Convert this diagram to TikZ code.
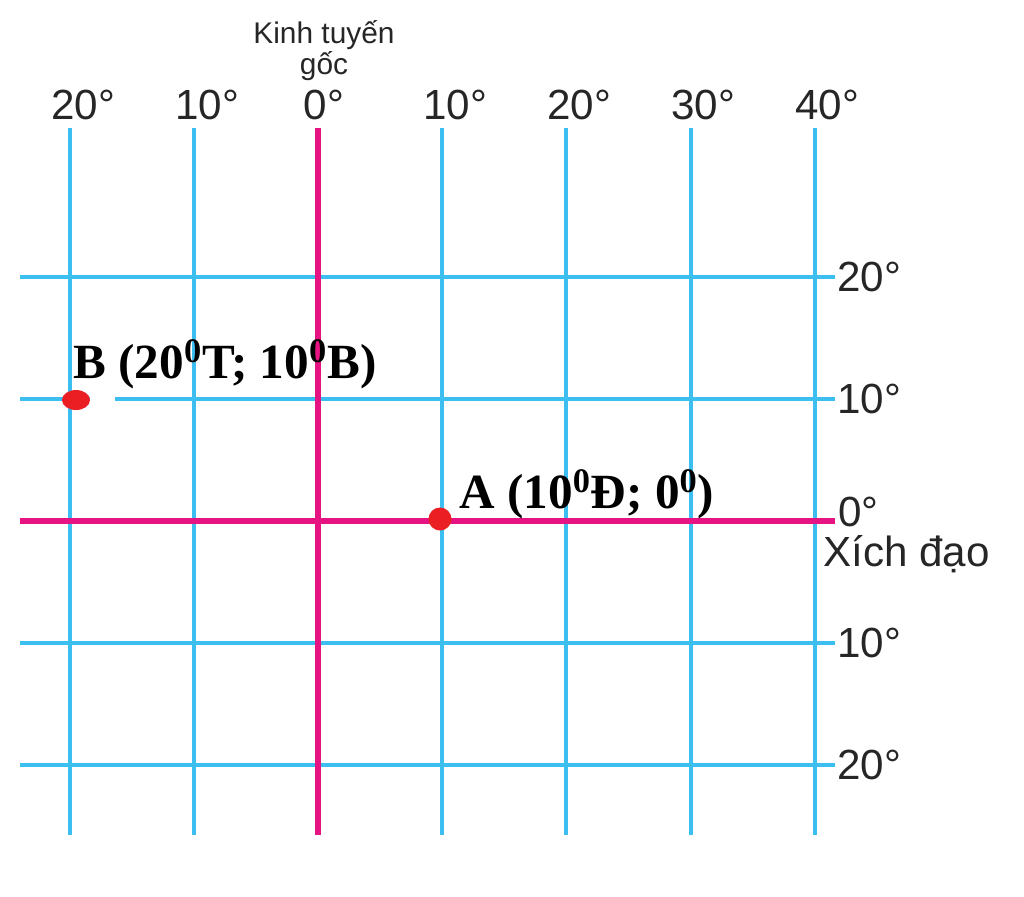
\documentclass[tikz,border=0pt]{standalone}
\usepackage{fontspec}
\setmainfont{Liberation Serif}
\setsansfont{Liberation Sans}
\usetikzlibrary{shapes.geometric}
\definecolor{gridblue}{RGB}{60,190,240}
\definecolor{primemag}{RGB}{230,20,130}
\definecolor{dotred}{RGB}{235,30,35}
\begin{document}
\begin{tikzpicture}[x=0.02cm,y=-0.02cm,
        meridian/.style={gridblue,line width=2.3pt},
        parallel/.style={gridblue,line width=2.6pt},
        primeline/.style={primemag,line width=3.4pt},
        deglabel/.style={font=\sffamily\fontsize{24}{24}\selectfont,text=black!85,inner sep=0pt},
        ptlabel/.style={font=\bfseries\fontsize{28}{28}\selectfont,inner sep=0pt,anchor=base west},
        ptdot/.style={fill=dotred,draw=none,inner sep=0pt}]
    \useasboundingbox (0,0) rectangle (1024,896);

    % grid
    \foreach \y in {277,399,643,765}
        \draw[parallel] (20,\y) -- (835,\y);
    \foreach \x in {70,194,442,566,691,815}
        \draw[meridian] (\x,128) -- (\x,835);
    \draw[primeline] (318,128) -- (318,835);
    \draw[primeline] (20,521) -- (835,521);

    % longitudes on top
    \node[deglabel,anchor=base,align=center,font=\sffamily\fontsize{17}{16.5}\selectfont]
        (prime) at (324,74) {Kinh tuyến\\gốc};
    \foreach \x/\t/\n in {83/20/w20,207/10/w10,324/0/p0,455/10/e10,579/20/e20,703/30/e30,827/40/e40}
        \node[deglabel,anchor=base] (lon\n) at (\x,119) {\t°};

    % latitudes on the right
    \foreach \y/\t/\n in {277/20/n20,399/10/n10,643/10/s10,765/20/s20}
        \node[deglabel,anchor=west] (lat\n) at (837,\y) {\t°};
    \node[deglabel,anchor=west] (lateq) at (838,512) {0°};
    \node[deglabel,anchor=base west] (equator) at (823,566) {Xích đạo};

    % points
    \fill[white] (90,393) rectangle (115,401);
    \node[ptdot,ellipse,minimum width=0.56cm,minimum height=0.4cm] (dotB) at (76,400) {};
    \node[ptdot,circle,minimum size=0.46cm] (dotA) at (440,519) {};
    \node[ptlabel] (labB) at (73,378) {B (20\textsuperscript{0}T; 10\textsuperscript{0}B)};
    \node[ptlabel] (labA) at (459,508) {A (10\textsuperscript{0}Đ; 0\textsuperscript{0})};
\end{tikzpicture}
\end{document}
